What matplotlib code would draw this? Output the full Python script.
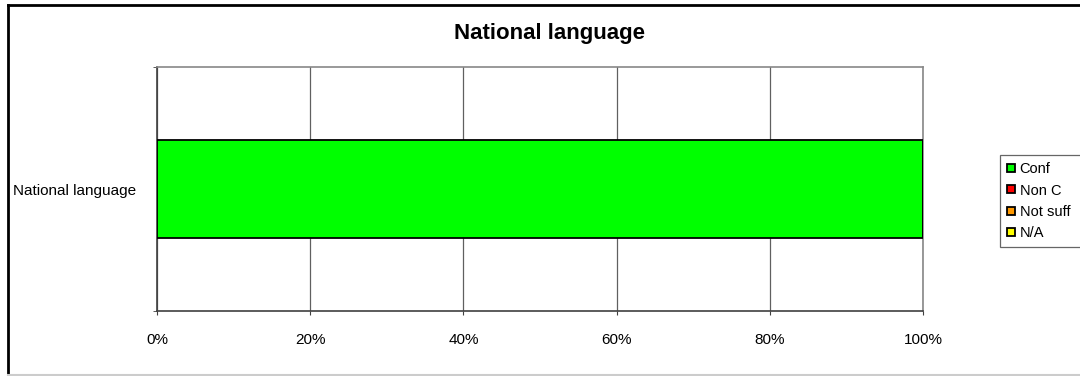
import matplotlib.pyplot as plt
from matplotlib.lines import Line2D

categories = ['National language']
series = ['Conf', 'Non C', 'Not suff', 'N/A']
values = {
    'Conf': [100],
    'Non C': [0],
    'Not suff': [0],
    'N/A': [0],
}
colors = ['#00FF00', '#FF0000', '#FF9900', '#FFFF00']
xticks = [0, 20, 40, 60, 80, 100]

plt.rcParams['font.family'] = ['Liberation Sans', 'DejaVu Sans']

fig = plt.figure(figsize=(10.8, 3.76), dpi=100)
ax = fig.add_axes([157 / 1080, 1 - 311 / 376, 766 / 1080, 244 / 376])

# stacked horizontal bars
left = [0] * len(categories)
for name, col in zip(series, colors):
    ax.barh(range(len(categories)), values[name], left=left, height=0.4,
            color=col, edgecolor='black', linewidth=1.3, label=name, zorder=3)
    left = [l + v for l, v in zip(left, values[name])]

ax.set_xlim(0, 100)
ax.set_ylim(-0.5, 0.5)
ax.set_xticks(xticks)
ax.set_xticklabels([f'{t}%' for t in xticks], fontsize=11)
ax.tick_params(axis='x', length=3, pad=13, color='#404040')
ax.set_yticks([0])
ax.set_yticklabels(categories, fontsize=11)
ax.tick_params(axis='y', which='major', length=0, pad=15)
ax.set_yticks([-0.5, 0.5], minor=True)
ax.tick_params(axis='y', which='minor', length=3, color='#404040')

ax.grid(axis='x', color='#606060', linewidth=0.9, zorder=0)
for s in ['top', 'right']:
    ax.spines[s].set_color('#888888')
    ax.spines[s].set_linewidth(1.2)
for s in ['left', 'bottom']:
    ax.spines[s].set_color('#404040')
    ax.spines[s].set_linewidth(1.2)

fig.text(549 / 1080, 1 - 33 / 376, 'National language', ha='center', va='center',
         fontsize=16, fontweight='bold')

# legend box runs off the right edge of the chart
handles = [Line2D([], [], marker='s', linestyle='none', markersize=6,
                  markerfacecolor=c, markeredgecolor='black', markeredgewidth=1.3)
           for c in colors]
leg = fig.legend(handles, series, loc='upper left', mode='expand',
                 bbox_to_anchor=(1000 / 1080, 1 - 155 / 376, 0.1, 0),
                 fontsize=10.5, frameon=True, fancybox=False, handlelength=0.5,
                 handletextpad=0.35, labelspacing=0.5, borderpad=0.5,
                 borderaxespad=0)
leg.get_frame().set_edgecolor('#404040')
leg.get_frame().set_linewidth(0.9)

# outer chart border
fig.add_artist(Line2D([7.5 / 1080, 7.5 / 1080], [1 - 5 / 376, 0], color='black',
                      linewidth=2, transform=fig.transFigure))
fig.add_artist(Line2D([7.5 / 1080, 1], [1 - 5 / 376, 1 - 5 / 376], color='black',
                      linewidth=2, transform=fig.transFigure))
fig.add_artist(Line2D([7.5 / 1080, 1], [1 - 375 / 376, 1 - 375 / 376], color='#cccccc',
                      linewidth=1.5, transform=fig.transFigure))

fig.savefig('out.png', dpi=100)
